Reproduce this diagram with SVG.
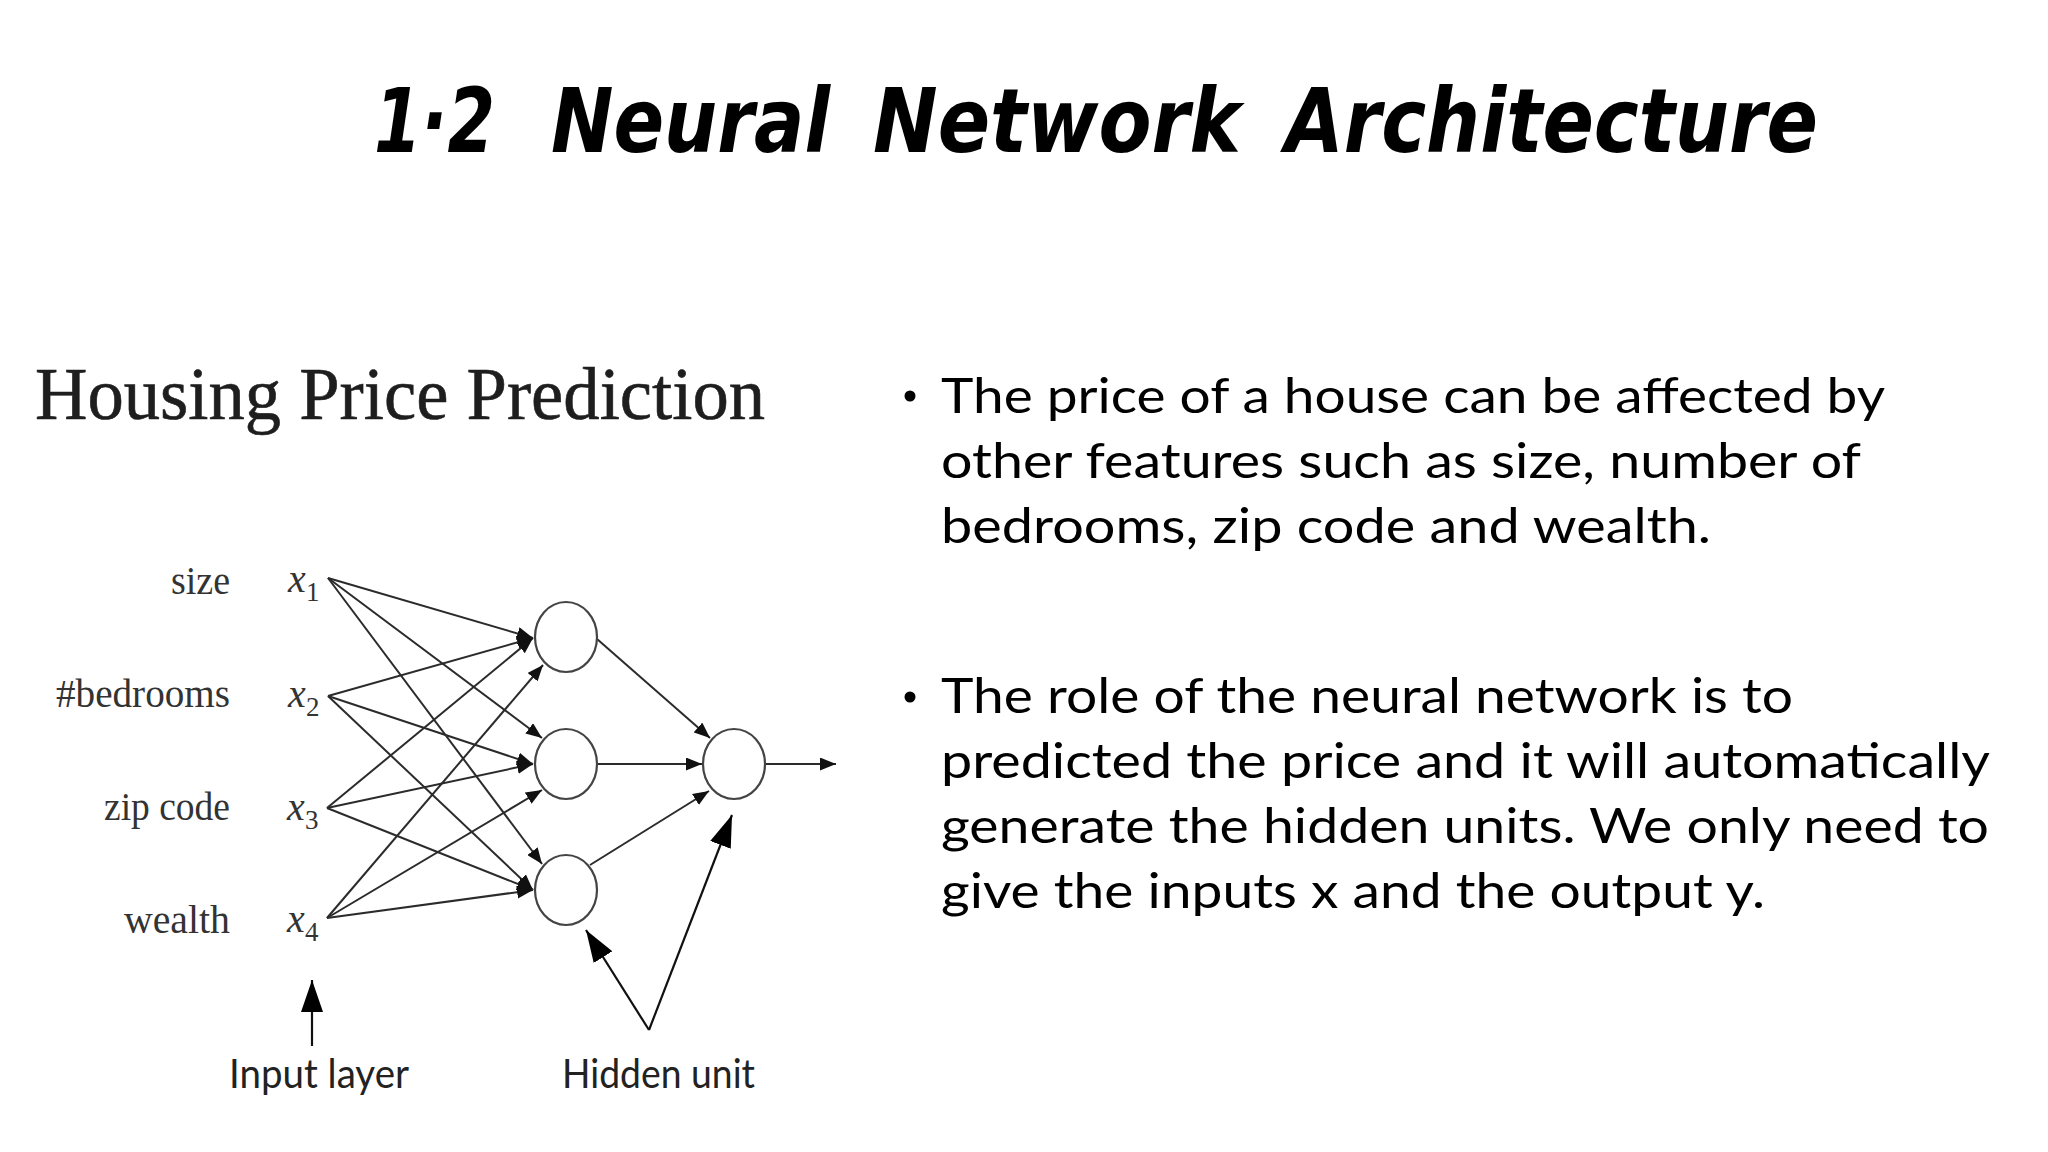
<svg xmlns="http://www.w3.org/2000/svg" width="2048" height="1152" viewBox="0 0 2048 1152">
  <style>
    .title { font-family: "DejaVu Sans", sans-serif; font-weight: bold; font-style: italic; font-size: 89px; fill: #000; }
    .sub { font-family: "Liberation Serif", serif; font-size: 74px; fill: #1e1e1e; stroke: #1e1e1e; stroke-width: 0.6; }
    .feat { font-family: "Liberation Serif", serif; font-size: 40px; fill: #333; text-anchor: end; }
    .xv { font-family: "Liberation Serif", serif; font-style: italic; font-size: 40px; fill: #333; }
    .xs { font-family: "Liberation Serif", serif; font-style: normal; font-size: 27px; fill: #333; }
    .body { font-family: Lato, "Open Sans", sans-serif; font-size: 49px; fill: #000; }
    .cap { font-family: Lato, "Open Sans", sans-serif; font-size: 40px; fill: #222; }
    .unit { fill: #fff; stroke: #444; stroke-width: 2.2; }
    .edge { stroke: #2b2b2b; stroke-width: 2; fill: none; marker-end: url(#ah); }
    .pointer { stroke: #111; stroke-width: 2.2; fill: none; marker-end: url(#big); }
  </style>
  <defs>
    <marker id="ah" markerUnits="userSpaceOnUse" viewBox="0 0 16 13" refX="16" refY="6.5" markerWidth="16" markerHeight="13" orient="auto">
      <path d="M0,0 L16,6.5 L0,13 z" fill="#111"/>
    </marker>
    <marker id="big" markerUnits="userSpaceOnUse" viewBox="0 0 32 22" refX="32" refY="11" markerWidth="32" markerHeight="22" orient="auto">
      <path d="M0,0 L32,11 L0,22 z" fill="#000"/>
    </marker>
  </defs>
  <rect width="2048" height="1152" fill="#fff"/>

  <g id="title">
    <text class="title" y="152"><tspan x="374" textLength="121" lengthAdjust="spacingAndGlyphs">1·2</tspan><tspan x="551" textLength="279" lengthAdjust="spacingAndGlyphs">Neural</tspan><tspan x="873" textLength="368" lengthAdjust="spacingAndGlyphs">Network</tspan><tspan x="1285" textLength="533" lengthAdjust="spacingAndGlyphs">Architecture</tspan></text>
  </g>

  <g id="subtitle">
    <text class="sub" x="35" y="419" textLength="730" lengthAdjust="spacingAndGlyphs">Housing Price Prediction</text>
  </g>

  <g id="input-labels">
    <text class="feat" x="230" y="594" textLength="59" lengthAdjust="spacingAndGlyphs">size</text>
    <text class="feat" x="230" y="707" textLength="174" lengthAdjust="spacingAndGlyphs">#bedrooms</text>
    <text class="feat" x="230" y="820" textLength="126" lengthAdjust="spacingAndGlyphs">zip code</text>
    <text class="feat" x="230" y="933" textLength="106" lengthAdjust="spacingAndGlyphs">wealth</text>
  </g>

  <g id="x1"><text class="xv" x="288" y="592">x<tspan class="xs" x="306" y="601">1</tspan></text></g>
  <g id="x2"><text class="xv" x="288" y="707">x<tspan class="xs" x="306" y="716">2</tspan></text></g>
  <g id="x3"><text class="xv" x="287" y="820">x<tspan class="xs" x="305" y="829">3</tspan></text></g>
  <g id="x4"><text class="xv" x="287" y="932">x<tspan class="xs" x="305" y="941">4</tspan></text></g>

  <g id="connectors">
    <line class="edge" x1="328" y1="578" x2="533" y2="638"/>
    <line class="edge" x1="328" y1="696" x2="533" y2="638"/>
    <line class="edge" x1="327" y1="808" x2="533" y2="638"/>
    <line class="edge" x1="327" y1="918" x2="543" y2="665"/>
    <line class="edge" x1="328" y1="578" x2="542" y2="738"/>
    <line class="edge" x1="328" y1="696" x2="533" y2="764"/>
    <line class="edge" x1="327" y1="808" x2="533" y2="764"/>
    <line class="edge" x1="327" y1="918" x2="542" y2="790"/>
    <line class="edge" x1="328" y1="578" x2="542" y2="864"/>
    <line class="edge" x1="328" y1="696" x2="533" y2="890"/>
    <line class="edge" x1="327" y1="808" x2="533" y2="890"/>
    <line class="edge" x1="327" y1="918" x2="533" y2="890"/>
    <line class="edge" x1="597" y1="639" x2="710" y2="738"/>
    <line class="edge" x1="597" y1="764" x2="702" y2="764"/>
    <line class="edge" x1="590" y1="865" x2="709" y2="791"/>
    <line class="edge" x1="766" y1="764" x2="836" y2="764"/>
    <line class="pointer" x1="312" y1="1046" x2="312" y2="980"/>
    <line class="pointer" x1="649" y1="1030" x2="586" y2="930"/>
    <line class="pointer" x1="649" y1="1030" x2="732" y2="815"/>
  </g>

  <g id="hidden1"><ellipse class="unit" cx="566" cy="637" rx="31" ry="35"/></g>
  <g id="hidden2"><ellipse class="unit" cx="566" cy="764" rx="31" ry="35"/></g>
  <g id="hidden3"><ellipse class="unit" cx="566" cy="890" rx="31" ry="35"/></g>
  <g id="output"><ellipse class="unit" cx="734" cy="764" rx="31" ry="35"/></g>

  <g id="captions">
    <text class="cap" x="229" y="1088" textLength="180" lengthAdjust="spacingAndGlyphs">Input layer</text>
    <text class="cap" x="562" y="1088" textLength="193" lengthAdjust="spacingAndGlyphs">Hidden unit</text>
  </g>

  <g id="bullet1">
    <circle cx="910" cy="396" r="5.5" fill="#000"/>
    <text class="body" x="941" y="413" textLength="944" lengthAdjust="spacingAndGlyphs">The price of a house can be affected by</text>
    <text class="body" x="941" y="478" textLength="920" lengthAdjust="spacingAndGlyphs">other features such as size, number of</text>
    <text class="body" x="941" y="543" textLength="770" lengthAdjust="spacingAndGlyphs">bedrooms, zip code and wealth.</text>
  </g>

  <g id="bullet2">
    <circle cx="910" cy="697" r="5.5" fill="#000"/>
    <text class="body" x="941" y="713" textLength="852" lengthAdjust="spacingAndGlyphs">The role of the neural network is to</text>
    <text class="body" x="941" y="778" textLength="1049" lengthAdjust="spacingAndGlyphs">predicted the price and it will automatically</text>
    <text class="body" x="941" y="843" textLength="1048" lengthAdjust="spacingAndGlyphs">generate the hidden units. We only need to</text>
    <text class="body" x="941" y="908" textLength="824" lengthAdjust="spacingAndGlyphs">give the inputs x and the output y.</text>
  </g>
</svg>
